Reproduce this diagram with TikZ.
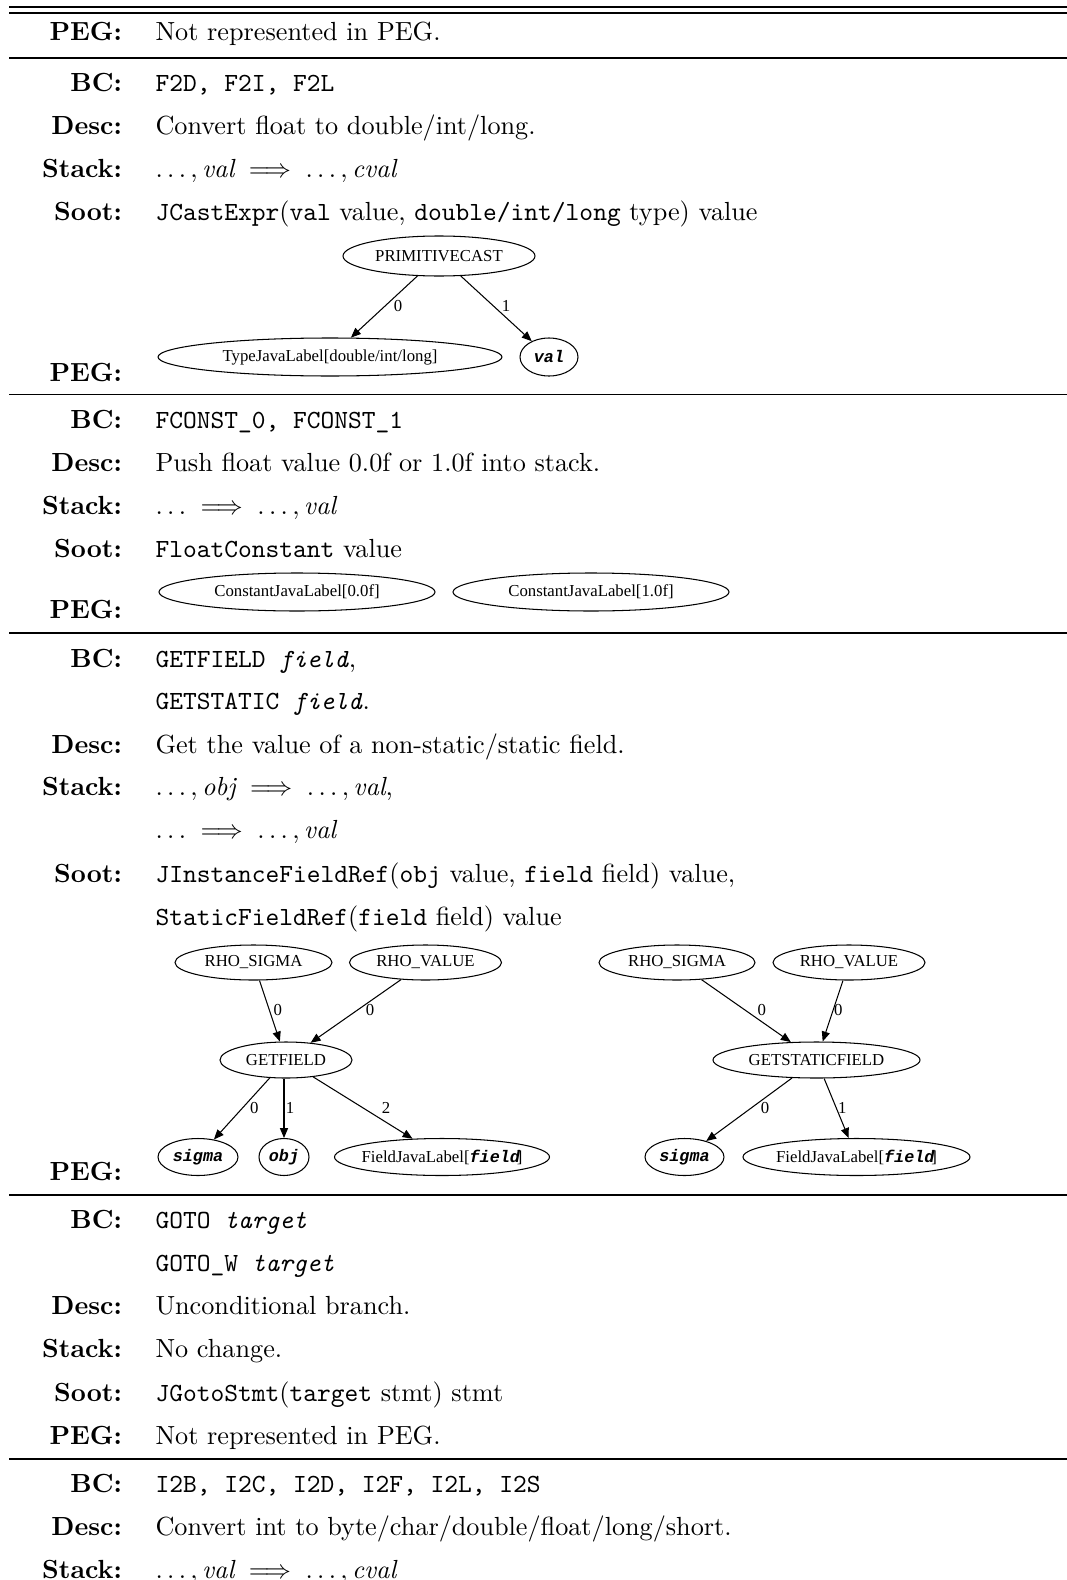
\documentclass[tikz,border=0pt]{standalone}
\usepackage{amsmath}
\usepackage{fontspec}
\newfontfamily\gvfont{Liberation Serif}
\newfontfamily\gvmono{Liberation Mono}
\usetikzlibrary{shapes.geometric,arrows.meta}

% bold italic mono used for operand placeholders inside graph nodes
\newcommand{\gvarg}[1]{{\gvmono\bfseries\itshape #1}}
% length of one drawing unit
\newcommand{\pu}{0.3817pt}

\begin{document}
\begin{tikzpicture}[x=\pu,y=-\pu,
  lab/.style={anchor=base east, inner sep=0pt, font=\bfseries},
  txt/.style={anchor=base west, inner sep=0pt},
  hrule/.style={line width=0.45pt},
  gtext/.style={inner sep=0pt, font=\gvfont\fontsize{6.4}{7}\selectfont},
  gnode/.style n args={3}{ellipse, draw, line width=0.4pt, inner sep=0pt,
    minimum width=#1*\pu, minimum height=#2*\pu,
    label={[gtext]center:#3}},
  gedge/.style={-{Triangle[length=3.8pt,width=3.1pt]}, line width=0.4pt},
  elab/.style={inner sep=0pt, font=\gvfont\fontsize{6.4}{7}\selectfont}]

\path[use as bounding box] (0,0) rectangle (1067,1580);

% ---------- horizontal rules ----------
\coordinate (r0a) at (9,7);     \coordinate (r0b) at (1067,7);
\coordinate (r0c) at (9,13);    \coordinate (r0d) at (1067,13);
\coordinate (r1a) at (9,58);    \coordinate (r1b) at (1067,58);
\coordinate (r2a) at (9,394.5); \coordinate (r2b) at (1067,394.5);
\coordinate (r3a) at (9,633);   \coordinate (r3b) at (1067,633);
\coordinate (r4a) at (9,1195);  \coordinate (r4b) at (1067,1195);
\coordinate (r5a) at (9,1459);  \coordinate (r5b) at (1067,1459);
\draw[hrule] (r0a) -- (r0b);
\draw[hrule] (r0c) -- (r0d);
\draw[hrule] (r1a) -- (r1b);
\draw[hrule] (r2a) -- (r2b);
\draw[hrule] (r3a) -- (r3b);
\draw[hrule] (r4a) -- (r4b);
\draw[hrule] (r5a) -- (r5b);

% ---------- section 0 ----------
\node[lab] (p0l) at (122.5,41) {PEG:};
\node[txt] (p0t) at (155,41) {Not represented in PEG.};

% ---------- section 1: F2D, F2I, F2L ----------
\node[lab] (b1l) at (122.5,91.4) {BC:};
\node[txt] (b1t) at (155,91.4) {\texttt{F2D, F2I, F2L}};
\node[lab] (d1l) at (122.5,134.5) {Desc:};
\node[txt] (d1t) at (155,134.5) {Convert float to double/int/long.};
\node[lab] (s1l) at (122.5,177.6) {Stack:};
\node[txt] (s1t) at (155,177.6) {$\ldots, \mathit{val} \implies \ldots, \mathit{cval}$};
\node[lab] (o1l) at (122.5,220.7) {Soot:};
\node[txt] (o1t) at (155,220.7) {\texttt{JCastExpr}(\texttt{val} value, \texttt{double/int/long} type) value};
\node[lab] (p1l) at (122.5,381.4) {PEG:};

\node[gnode={192}{40}{PRIMITIVECAST}] (pc)  at (439,256) {};
\node[gnode={344}{38}{TypeJavaLabel[double/int/long]}] (tj)  at (330,357) {};
\node[gnode={58}{38}{\gvarg{val}}]  (val) at (549,357) {};
\draw[gedge] (pc) -- (tj);
\draw[gedge] (pc) -- (val);
\node[elab] (e10) at (398,306) {0};
\node[elab] (e11) at (506,306) {1};

% ---------- section 2: FCONST ----------
\node[lab] (b2l) at (122.5,428.4) {BC:};
\node[txt] (b2t) at (155,428.4) {\texttt{FCONST\_0, FCONST\_1}};
\node[lab] (d2l) at (122.5,471.3) {Desc:};
\node[txt] (d2t) at (155,471.3) {Push float value 0.0f or 1.0f into stack.};
\node[lab] (s2l) at (122.5,514.2) {Stack:};
\node[txt] (s2t) at (155,514.2) {$\ldots \implies \ldots, \mathit{val}$};
\node[lab] (o2l) at (122.5,557.4) {Soot:};
\node[txt] (o2t) at (155,557.4) {\texttt{FloatConstant} value};
\node[lab] (p2l) at (122.5,618) {PEG:};

\node[gnode={276}{38}{ConstantJavaLabel[0.0f]}] (c0) at (297,592) {};
\node[gnode={276}{38}{ConstantJavaLabel[1.0f]}] (c1) at (591,592) {};

% ---------- section 3: GETFIELD / GETSTATIC ----------
\node[lab] (b3l) at (122.5,667.4) {BC:};
\node[txt] (b3t) at (155,667.4) {\texttt{GETFIELD \textit{field}},};
\node[txt] (b3u) at (155,709.7) {\texttt{GETSTATIC \textit{field}}.};
\node[lab] (d3l) at (122.5,753) {Desc:};
\node[txt] (d3t) at (155,753) {Get the value of a non-static/static field.};
\node[lab] (s3l) at (122.5,795.4) {Stack:};
\node[txt] (s3t) at (155,795.4) {$\ldots, \mathit{obj} \implies \ldots, \mathit{val}$,};
\node[txt] (s3u) at (155,838.4) {$\ldots \implies \ldots, \mathit{val}$};
\node[lab] (o3l) at (122.5,882) {Soot:};
\node[txt] (o3t) at (155,882) {\texttt{JInstanceFieldRef}(\texttt{obj} value, \texttt{field} field) value,};
\node[txt] (o3u) at (155,925.4) {\texttt{StaticFieldRef}(\texttt{field} field) value};
\node[lab] (p3l) at (122.5,1180.4) {PEG:};

% instance field graph
\node[gnode={157}{35}{RHO\_SIGMA}] (rs1) at (253.5,962.5) {};
\node[gnode={152}{35}{RHO\_VALUE}] (rv1) at (425.5,962.5) {};
\node[gnode={132}{36}{GETFIELD}]   (gf)  at (286,1060) {};
\node[gnode={80}{37}{\gvarg{sigma}}] (sg1) at (198,1157) {};
\node[gnode={50}{37}{\gvarg{obj}}]   (obj) at (284,1157) {};
\node[gnode={215}{37}{FieldJavaLabel[\gvarg{field}\kern-1.2pt]}] (fl1) at (442,1157) {};
\draw[gedge] (rs1) -- (gf);
\draw[gedge] (rv1) -- (gf);
\draw[gedge] (gf) -- (sg1);
\draw[gedge] (gf.south -| obj.north) -- (obj);
\draw[gedge] (gf) -- (fl1);
\node[elab] (e30) at (277.7,1010) {0};
\node[elab] (e31) at (370,1010) {0};
\node[elab] (e32) at (254.3,1108.3) {0};
\node[elab] (e33) at (290,1108.3) {1};
\node[elab] (e34) at (386,1108.3) {2};

% static field graph
\node[gnode={156}{35}{RHO\_SIGMA}] (rs2) at (677,962.5) {};
\node[gnode={152}{35}{RHO\_VALUE}] (rv2) at (849,962.5) {};
\node[gnode={207}{36}{GETSTATICFIELD}] (gsf) at (816.5,1060) {};
\node[gnode={79}{37}{\gvarg{sigma}}] (sg2) at (684.5,1157) {};
\node[gnode={227}{37}{FieldJavaLabel[\gvarg{field}\kern-1.2pt]}] (fl2) at (856.5,1157) {};
\draw[gedge] (rs2) -- (gsf);
\draw[gedge] (rv2) -- (gsf);
\draw[gedge] (gsf) -- (sg2);
\draw[gedge] (gsf) -- (fl2);
\node[elab] (e40) at (761.7,1010) {0};
\node[elab] (e41) at (838.3,1010) {0};
\node[elab] (e42) at (765,1108.3) {0};
\node[elab] (e43) at (842.3,1108.3) {1};

% ---------- section 4: GOTO ----------
\node[lab] (b4l) at (122.5,1228.4) {BC:};
\node[txt] (b4t) at (155,1228.4) {\texttt{GOTO \textit{target}}};
\node[txt] (b4u) at (155,1271) {\texttt{GOTO\_W \textit{target}}};
\node[lab] (d4l) at (122.5,1314.4) {Desc:};
\node[txt] (d4t) at (155,1314.4) {Unconditional branch.};
\node[lab] (s4l) at (122.5,1357.4) {Stack:};
\node[txt] (s4t) at (155,1357.4) {No change.};
\node[lab] (o4l) at (122.5,1401) {Soot:};
\node[txt] (o4t) at (155,1401) {\texttt{JGotoStmt}(\texttt{target} stmt) stmt};
\node[lab] (p4l) at (122.5,1444.4) {PEG:};
\node[txt] (p4t) at (155,1444.4) {Not represented in PEG.};

% ---------- section 5: I2x ----------
\node[lab] (b5l) at (122.5,1492.4) {BC:};
\node[txt] (b5t) at (155,1492.4) {\texttt{I2B, I2C, I2D, I2F, I2L, I2S}};
\node[lab] (d5l) at (122.5,1535.8) {Desc:};
\node[txt] (d5t) at (155,1535.8) {Convert int to byte/char/double/float/long/short.};
\node[lab] (s5l) at (122.5,1578.4) {Stack:};
\node[txt] (s5t) at (155,1578.4) {$\ldots, \mathit{val} \implies \ldots, \mathit{cval}$};
\end{tikzpicture}
\end{document}
